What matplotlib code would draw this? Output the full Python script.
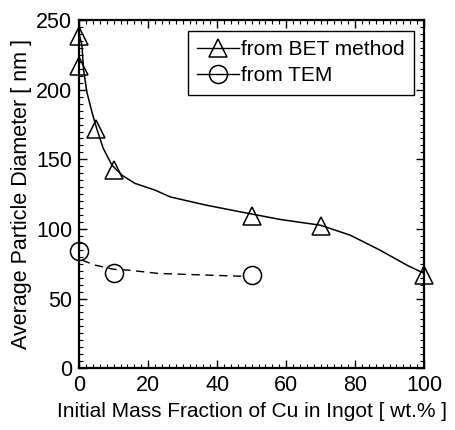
import numpy as np
import matplotlib.pyplot as plt
from matplotlib.ticker import MultipleLocator

plt.rcParams['font.family'] = ['Liberation Sans', 'DejaVu Sans']

# ── data ────────────────────────────────────────────────────────────────────
bet_x = [0, 0, 5, 10, 50, 70, 100]
bet_y = [239, 217, 172, 142, 109, 102, 67]

tem_x = [0, 10, 50]
tem_y = [84, 68, 67]

# guide curves as drawn in the figure
bet_fit_x = [0, 0.8, 1.25, 2.2, 3.7, 5.1, 7.0, 9.5, 12.4, 16.2, 22, 26.4,
             37, 46.7, 58.3, 69.9, 78.6, 87.2, 95, 100]
bet_fit_y = [240, 232, 215, 198.6, 184, 172, 157.8, 145.8, 138.6, 132.7,
             127.9, 123, 117, 112.3, 106.8, 102.7, 95.5, 84.8, 74, 68]

tem_fit_x = [0.8, 4.6, 10, 14.2, 23, 37.4, 47]
tem_fit_y = [77.6, 74, 71, 70.4, 68, 66.8, 66]

# ── plot ────────────────────────────────────────────────────────────────────
fig = plt.figure(figsize=(4.55, 4.3), dpi=100)
ax = fig.add_axes([0.174, 0.144, 0.758, 0.809])

ax.plot(bet_fit_x, bet_fit_y, '-', color='black', lw=1.1)
ax.plot(tem_fit_x, tem_fit_y, '--', color='black', lw=1.0, dashes=(6, 4))

ax.plot(bet_x, bet_y, '^', ms=12.5, mfc='none', mec='black', mew=1.1,
        clip_on=False, zorder=5)
ax.plot(tem_x, tem_y, 'o', ms=13, mfc='none', mec='black', mew=1.1,
        clip_on=False, zorder=5)

# legend proxies (marker with line through)
ax.plot([], [], '-^', color='black', lw=1.0, ms=12.5, mfc='none', mew=1.1,
        label='from BET method')
ax.plot([], [], '-o', color='black', lw=1.0, ms=13, mfc='none', mew=1.1,
        label='from TEM')

ax.set_xlim(0, 100)
ax.set_ylim(0, 250)
ax.xaxis.set_major_locator(MultipleLocator(20))
ax.xaxis.set_minor_locator(MultipleLocator(2))
ax.yaxis.set_major_locator(MultipleLocator(50))
ax.yaxis.set_minor_locator(MultipleLocator(5))
ax.tick_params(which='both', direction='in', top=True, right=True,
               labelsize=15.5)
ax.tick_params(which='major', length=6, width=1.0, pad=5)
ax.tick_params(which='minor', length=3, width=0.8)
for side in ['left', 'bottom', 'top', 'right']:
    ax.spines[side].set_linewidth(1.6)

ax.set_xlabel('Initial Mass Fraction of Cu in Ingot [ wt.% ]', fontsize=15,
              labelpad=4)
ax.set_ylabel('Average Particle Diameter [ nm ]', fontsize=15.5, labelpad=3)

leg = ax.legend(loc='upper right', fontsize=15, frameon=True, fancybox=False,
                edgecolor='black', handlelength=2.0, handletextpad=0.1,
                borderpad=0.45, labelspacing=0.35, borderaxespad=0.5,
                framealpha=1)
leg.get_frame().set_linewidth(1.0)

fig.savefig('out.png', dpi=100)
